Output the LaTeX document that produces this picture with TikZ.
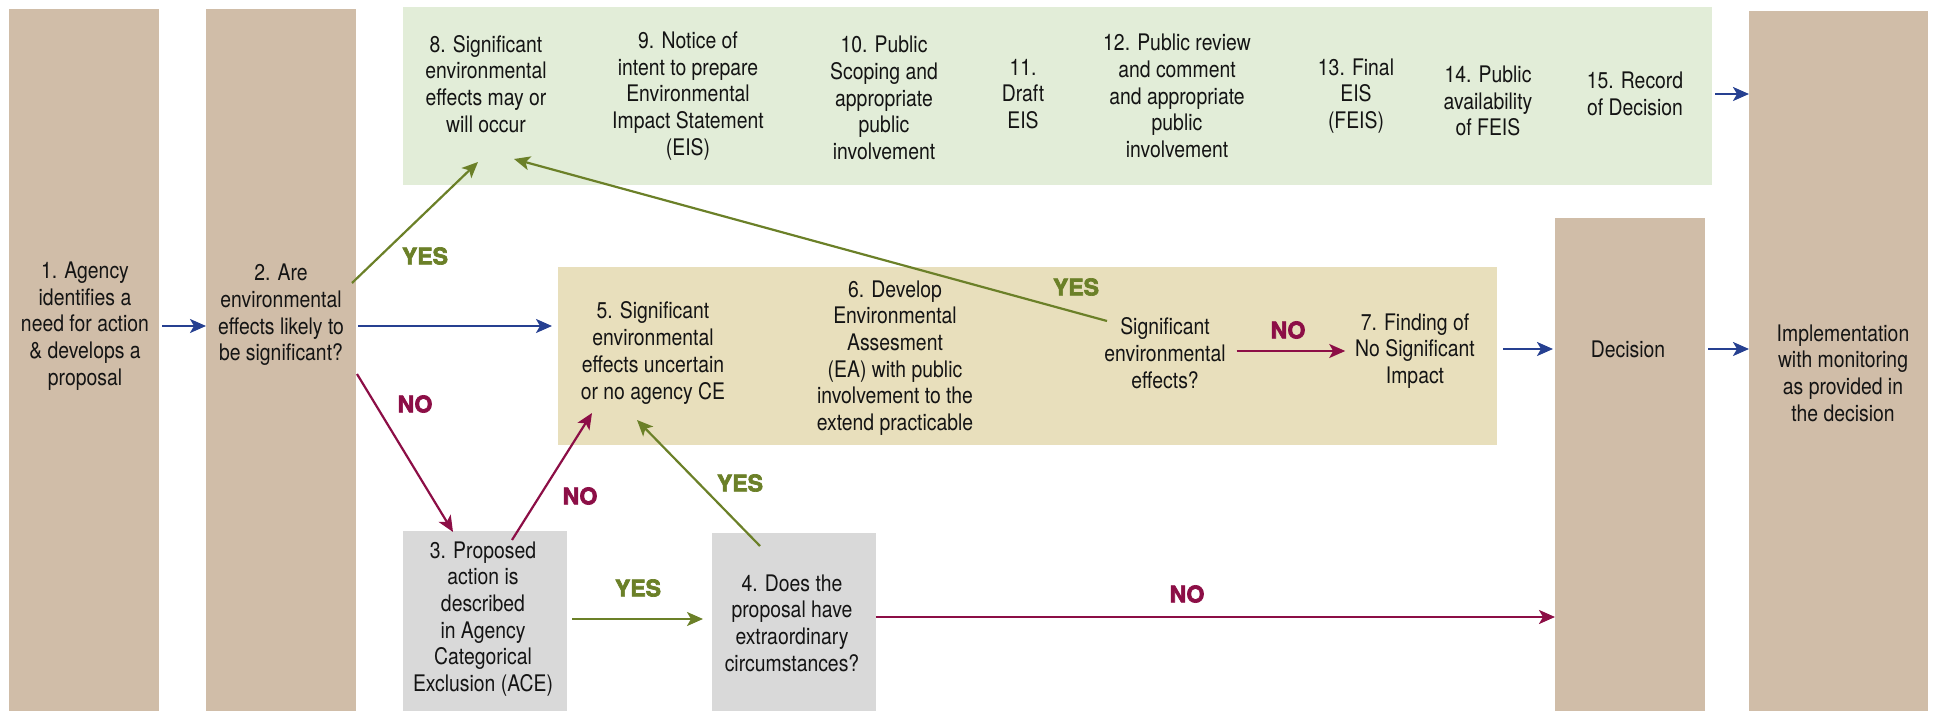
\documentclass[tikz,border=0pt]{standalone}
\usepackage{fontspec}
\setmainfont{TeX Gyre Heros}[FakeStretch=0.85]
\newfontfamily\yesnofont{TeX Gyre Heros}[BoldFeatures={FakeBold=3}]
\usetikzlibrary{arrows.meta,calc,fit}

\definecolor{boxtan}{RGB}{208,189,168}
\definecolor{eisgreen}{RGB}{226,237,216}
\definecolor{eatan}{RGB}{232,223,188}
\definecolor{acegray}{RGB}{217,217,217}
\definecolor{goblue}{RGB}{38,64,145}
\definecolor{yesgreen}{RGB}{107,128,40}
\definecolor{nored}{RGB}{140,14,70}
\definecolor{textblack}{RGB}{20,20,20}

\begin{document}
\begin{tikzpicture}[x=0.5pt,y=-0.5pt,
  every node/.style={inner sep=0pt,outer sep=0pt},
  tanbox/.style={fill=boxtan},
  eisbox/.style={fill=eisgreen},
  eabox/.style={fill=eatan},
  acebox/.style={fill=acegray},
  txt/.style={align=center,text=textblack,font=\fontsize{11.4}{13.35}\selectfont},
  lbl/.style={font=\yesnofont\bfseries\fontsize{11.5}{12}\selectfont},
  yeslbl/.style={lbl,text=yesgreen},
  nolbl/.style={lbl,text=nored},
  arr/.style={line width=1.1pt,-{Stealth[length=8pt,width=7pt,inset=2pt]}},
  bluearr/.style={arr,draw=goblue},
  yesarr/.style={arr,draw=yesgreen},
  noarr/.style={arr,draw=nored}]

\useasboundingbox (0,0) rectangle (1935,711);

\node[tanbox,fit={(9,9) (159,711)}] (agencybox) {};
\node[tanbox,fit={(206,9) (356,711)}] (sigbox) {};
\node[eisbox,fit={(403,7) (1712,185)}] (eisband) {};
\node[eabox,fit={(558,267) (1497,445)}] (eaband) {};
\node[acebox,fit={(403,531) (567,711)}] (proposedbox) {};
\node[acebox,fit={(712,533) (876,711)}] (extrabox) {};
\node[tanbox,fit={(1555,218) (1705,711)}] (decisionbox) {};
\node[tanbox,fit={(1749,11) (1928,711)}] (implbox) {};

\node[txt] (agency) at (85,326) {1. Agency\\identifies a\\need for action\\\& develops a\\proposal};
\node[txt] (sig) at (281,315) {2. Are\\environmental\\effects likely to\\be significant?};

\node[txt] (sigeis) at (486,84) {8. Significant\\environmental\\effects may or\\will occur};
\node[txt] (notice) at (688,96) {9. Notice of\\intent to prepare\\Environmental\\Impact Statement\\(EIS)};
\node[txt] (scoping) at (884,98) {10. Public\\Scoping and\\appropriate\\public\\involvement};
\node[txt] (draft) at (1023,94) {11.\\Draft\\EIS};
\node[txt] (review) at (1177,96) {12. Public review\\and comment\\and appropriate\\public\\involvement};
\node[txt] (final) at (1356,96) {13. Final\\EIS\\(FEIS)};
\node[txt] (avail) at (1488,101) {14. Public\\availability\\of FEIS};
\node[txt] (record) at (1635,94) {15. Record\\of Decision};

\node[txt] (uncertain) at (653,353) {5. Significant\\environmental\\effects uncertain\\or no agency CE};
\node[txt] (develop) at (895,358) {6. Develop\\Environmental\\Assesment\\(EA) with public\\involvement to the\\extend practicable};
\node[txt] (sigq) at (1165,353) {Significant\\environmental\\effects?};
\node[txt] (fonsi) at (1415,351) {7. Finding of\\No Significant\\Impact};

\node[txt] (decision) at (1628,349) {Decision};
\node[txt] (implement) at (1843,373) {Implementation\\with monitoring\\as provided in\\the decision};

\node[txt] (proposed) at (483,619) {3. Proposed\\action is\\described\\in Agency\\Categorical\\Exclusion (ACE)};
\node[txt] (extra) at (792,623) {4. Does the\\proposal have\\extraordinary\\circumstances?};

\draw[bluearr,shorten <=1.5pt] (agencybox.east |- agency) -- (sigbox.west |- agency);
\draw[bluearr,shorten <=1pt,shorten >=3pt] (sigbox.east |- agency) -- (eaband.west |- agency);

\draw[yesarr] ($(sigbox.east)+(-4,-77)$) -- ($(sigeis.south |- eisband.south)+(-8,-23)$);
\draw[noarr] ($(sigbox.east)+(1,14)$) -- ($(proposedbox.north west)+(50,1)$);

\draw[noarr] ($(proposedbox.north)+(27,9)$) -- ($(eaband.south west)+(34,-32)$);
\draw[yesarr] ($(extrabox.north)+(-34,13)$) -- ($(eaband.south west)+(79,-25)$);
\draw[yesarr,shorten <=2.5pt,shorten >=4.5pt] (proposedbox.east |- proposed) -- (extrabox.west |- proposed);
\draw[noarr] ($(extrabox.east |- extra)+(0,-6)$) -- ($(decisionbox.west |- extra)+(0,-6)$);

\draw[yesarr] ($(sigq.center)+(-58,-32)$) -- ($(sigeis.south |- eisband.south)+(28,-26)$);
\draw[noarr,shorten <=5.5pt,shorten >=5pt] (sigq.east |- fonsi) -- (fonsi.west);

\draw[bluearr,shorten <=3pt,shorten >=1pt] (eaband.east |- decision) -- (decisionbox.west |- decision);
\draw[bluearr,shorten <=1.5pt] (decisionbox.east |- decision) -- (implbox.west |- decision);
\draw[bluearr,shorten <=1.5pt] (eisband.east |- record) -- (implbox.west |- record);

\node[yeslbl] (yesEis) at (425,256) {YES};
\node[nolbl] (noAce) at (415,404) {NO};
\node[nolbl] (noEa) at (580,496) {NO};
\node[yeslbl] (yesEa) at (740,483) {YES};
\node[yeslbl] (yesAce) at (638,588) {YES};
\node[nolbl] (noDecision) at (1187,594) {NO};
\node[yeslbl] (yesSig) at (1076,287) {YES};
\node[nolbl] (noFonsi) at (1288,330) {NO};

\end{tikzpicture}
\end{document}
